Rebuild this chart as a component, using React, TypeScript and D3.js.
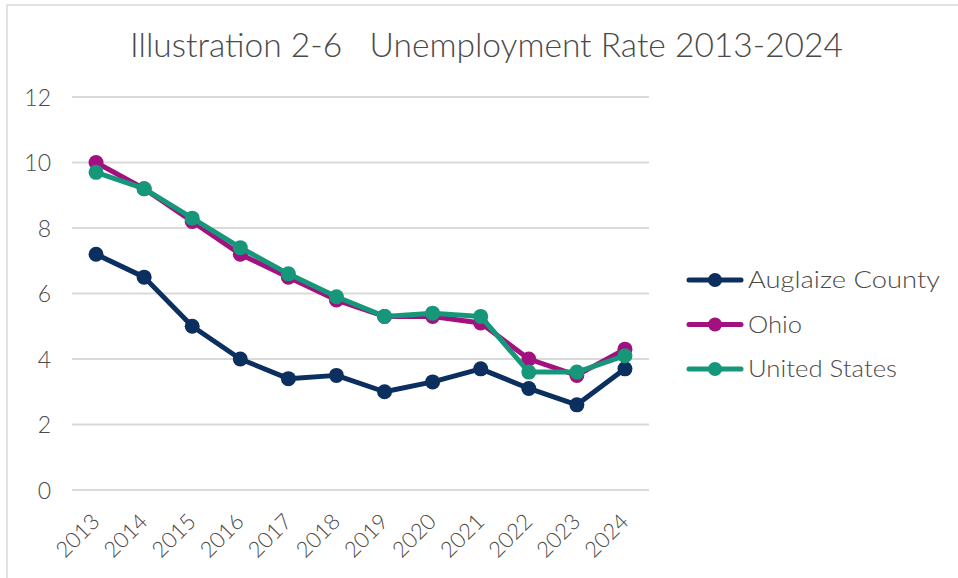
import React from "react";
import * as d3 from "d3";

const years = ["2013","2014","2015","2016","2017","2018","2019","2020","2021","2022","2023","2024"];
const auglaize = [7.2, 6.5, 5.0, 4.0, 3.4, 3.5, 3.0, 3.3, 3.7, 3.1, 2.6, 3.7];
const ohio = [10.0, 9.2, 8.2, 7.2, 6.5, 5.8, 5.3, 5.3, 5.1, 4.0, 3.5, 4.3];
const unitedStates = [9.7, 9.2, 8.3, 7.4, 6.6, 5.9, 5.3, 5.4, 5.3, 3.6, 3.6, 4.1];
const yTicks = [0, 2, 4, 6, 8, 10, 12];
const seriesNames = ["Auglaize County", "Ohio", "United States"];
const seriesColors = ["#0B2F5F", "#A2117F", "#16977A"];
const legendWidths = [192, 54, 149];

const W = 958, H = 578;
const FONT = "Lato, 'Open Sans', sans-serif";
const TXT = "#4a4a4a";

export default function App() {
  const x = d3.scaleBand().domain(years).range([72, 649]);
  const y = d3.scaleLinear().domain([0, 12]).range([490, 97]);
  const cxOf = (i: number) => (x(years[i]) as number) + x.bandwidth() / 2;
  const line = d3.line<number>()
    .x((_, i) => cxOf(i))
    .y(d => y(d));
  const all = [auglaize, ohio, unitedStates];
  return (
    <svg width={W} height={H} style={{ position: "absolute", left: 0, top: 0, background: "#fff" }}>
      <rect x={7} y={5} width={W + 10} height={H + 10} fill="#fff" stroke="#d9d9d9" strokeWidth={1.5} />
      <text x={130} y={57} textLength={713} lengthAdjust="spacingAndGlyphs" fontFamily={FONT} fontSize={33} fill={TXT} style={{ fontWeight: 300 }}>
        Illustration 2-6{"\u00a0\u00a0\u00a0"}Unemployment Rate 2013-2024
      </text>
      {yTicks.map(t => (
        <g key={t}>
          <line x1={72} x2={649} y1={y(t)} y2={y(t)} stroke="#d9d9d9" strokeWidth={2} />
          <text x={51} y={y(t) + 8.5} textAnchor="end" fontFamily={FONT} fontSize={23} fill={TXT} style={{ fontWeight: 300 }}>{t}</text>
        </g>
      ))}
      {years.map((yr, i) => (
        <text key={yr} transform={`translate(${cxOf(i) + 5},${523}) rotate(-45)`} textAnchor="end"
          fontFamily={FONT} fontSize={22} fill={TXT} style={{ fontWeight: 300 }}>{yr}</text>
      ))}
      {all.map((s, k) => (
        <g key={k}>
          <path d={line(s) || ""} fill="none" stroke={seriesColors[k]} strokeWidth={5} strokeLinejoin="round" />
          {s.map((v, i) => (
            <circle key={i} cx={cxOf(i)} cy={y(v)} r={7.5} fill={seriesColors[k]} />
          ))}
        </g>
      ))}
      {seriesNames.map((n, k) => {
        const ly = 280 + k * 44.5;
        return (
          <g key={n}>
            <line x1={689} x2={741} y1={ly} y2={ly} stroke={seriesColors[k]} strokeWidth={5} strokeLinecap="round" />
            <circle cx={715} cy={ly} r={7} fill={seriesColors[k]} />
            <text x={748} y={ly + 8} textLength={legendWidths[k]} lengthAdjust="spacingAndGlyphs"
              fontFamily={FONT} fontSize={23} fill={TXT} style={{ fontWeight: 300 }}>{n}</text>
          </g>
        );
      })}
    </svg>
  );
}
